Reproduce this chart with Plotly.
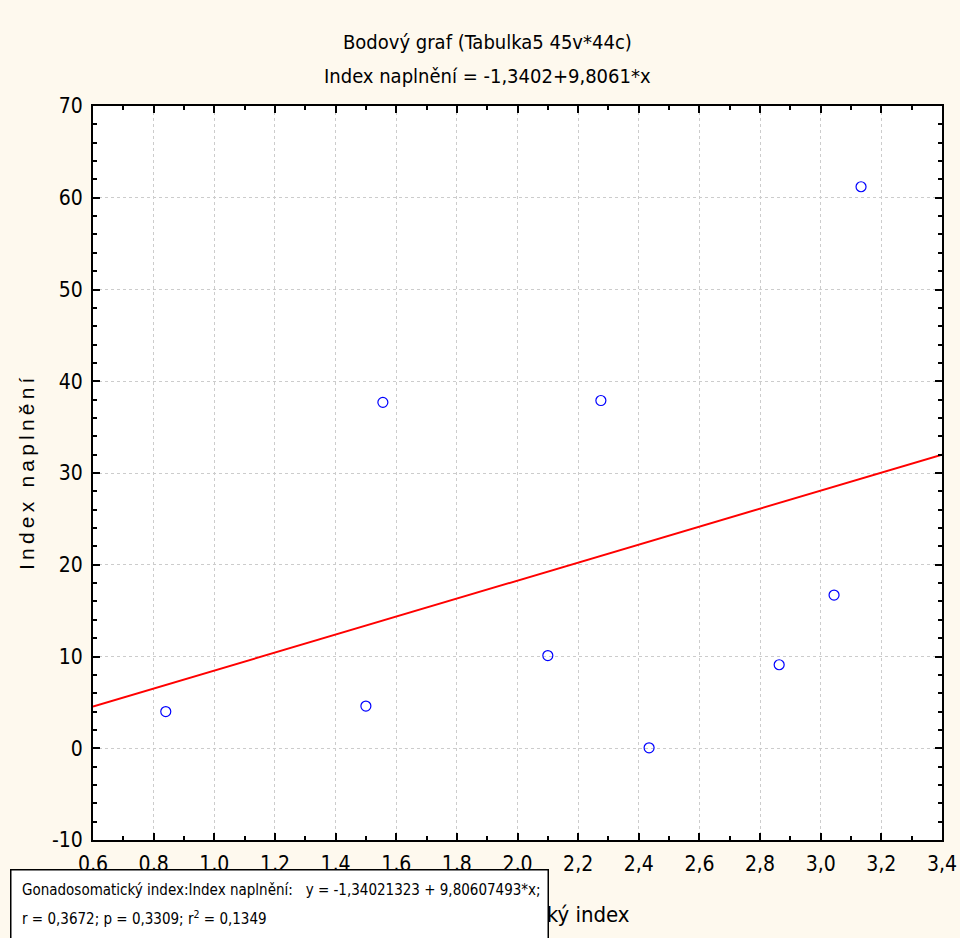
import plotly.graph_objects as go

# Data
gsi = [0.84, 1.50, 1.556, 2.10, 2.275, 2.434, 2.863, 3.044, 3.133]
fill_index = [4.0, 4.6, 37.7, 10.1, 37.9, 0.05, 9.1, 16.7, 61.2]
intercept = -1.34021323
slope = 9.80607493
x_range = [0.6, 3.4]
y_range = [-10, 70]
y_tickvals = [-10, 0, 10, 20, 30, 40, 50, 60, 70]
y_ticktext = ["-10", "0", "10", "20", "30", "40", "50", "60", "70"]

title_lines = ["Bodový graf (Tabulka5 45v*44c)", "Index naplnění = -1,3402+9,8061*x"]
x_title = "Gonadosomatický index"
y_title = "Index naplnění"
legend_lines = ["Gonadosomatický index:Index naplnění:   y = -1,34021323 + 9,80607493*x;",
                "r = 0,3672; p = 0,3309; r<sup>2</sup> = 0,1349"]

NARROW = "Liberation Sans Narrow, Arial Narrow, DejaVu Sans Condensed, sans-serif"

# plot area in page pixels
L, R, T, B = 93, 942, 106, 840
W, H = R - L, B - T


def px(x):
    return (x - L) / W


def py(y):
    return (B - y) / H


line_x = x_range
line_y = [intercept + slope * v for v in line_x]

fig = go.Figure()
fig.add_trace(go.Scatter(x=line_x, y=line_y, mode="lines",
                         line=dict(color="#ff0000", width=2), showlegend=False,
                         hoverinfo="skip"))
fig.add_trace(go.Scatter(x=gsi, y=fill_index, mode="markers",
                         marker=dict(symbol="circle-open", size=10, color="#0000ff",
                                     line=dict(width=1.2, color="#0000ff")),
                         showlegend=False))

axis_common = dict(showline=True, linecolor="black", linewidth=2, mirror="ticks",
                   ticks="inside", ticklen=7, tickwidth=1.5, tickcolor="black",
                   showgrid=True, gridcolor="#cccccc", griddash="dot", gridwidth=1,
                   zeroline=False, ticklabelstandoff=4, automargin=False,
                   tickfont=dict(family=NARROW, size=21, color="black"))

fig.update_xaxes(range=x_range, dtick=0.2, tick0=0.6, tickformat=".1f",
                 minor=dict(dtick=0.1, ticks="inside", ticklen=4, tickcolor="black",
                            showgrid=False),
                 **axis_common)
fig.update_yaxes(range=y_range, tickmode="array", tickvals=y_tickvals, ticktext=y_ticktext,
                 minor=dict(dtick=2, tick0=0, ticks="inside", ticklen=4, tickcolor="black",
                            showgrid=False),
                 **axis_common)

fig.update_layout(
    width=960, height=938,
    margin=dict(l=L, r=960 - R, t=T, b=938 - B),
    paper_bgcolor="#fef9ee", plot_bgcolor="white",
    separators=", ",
    showlegend=False,
    font=dict(family=NARROW, color="black"),
)

fig.add_annotation(text=title_lines[0], xref="paper", yref="paper",
                   x=px(487), y=py(42), showarrow=False,
                   font=dict(family=NARROW, size=20, color="black"), yanchor="middle")
fig.add_annotation(text=title_lines[1], xref="paper", yref="paper",
                   x=px(487), y=py(76), showarrow=False,
                   font=dict(family=NARROW, size=20, color="black"), yanchor="middle")
fig.add_annotation(text="\u2009".join(y_title), xref="paper", yref="paper",
                   x=px(26), y=py(474), showarrow=False, textangle=-90,
                   font=dict(family="Liberation Sans, Arial, sans-serif", size=21, color="black"),
                   xanchor="center", yanchor="middle")
fig.add_annotation(text=x_title, xref="paper", yref="paper",
                   x=px(632), y=py(915), showarrow=False,
                   font=dict(family=NARROW, size=22, color="black"),
                   xanchor="right", yanchor="middle")
# legend box
fig.add_annotation(text=" ", xref="paper", yref="paper",
                   x=px(10), y=py(869), showarrow=False,
                   xanchor="left", yanchor="top",
                   width=536, height=80, bgcolor="white", bordercolor="black", borderwidth=1.5,
                   borderpad=0, font=dict(size=10))
fig.add_annotation(text=legend_lines[0], xref="paper", yref="paper",
                   x=px(20), y=py(890), showarrow=False,
                   xanchor="left", yanchor="middle",
                   font=dict(family=NARROW, size=15, color="black"))
fig.add_annotation(text=legend_lines[1], xref="paper", yref="paper",
                   x=px(20), y=py(918), showarrow=False,
                   xanchor="left", yanchor="middle",
                   font=dict(family=NARROW, size=15, color="black"))

fig.write_html("out.html", config={"displayModeBar": False},
               post_script="document.body.style.margin='0';")
